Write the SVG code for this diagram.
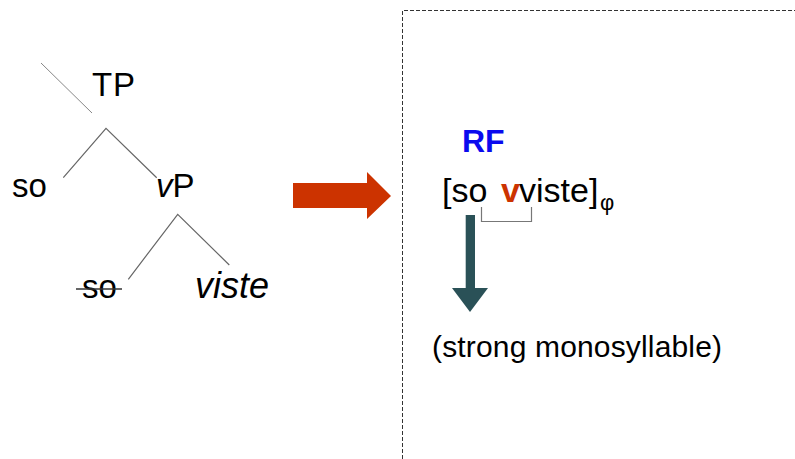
<svg xmlns="http://www.w3.org/2000/svg" width="795" height="459" viewBox="0 0 795 459">
<style>
  text { font-family: "Liberation Sans", Arial, sans-serif; fill: #000; }
  .lbl { font-size: 33px; }
  .it { font-style: italic; }
  .branch { stroke: #666; stroke-width: 1.2; fill: none; }
  .dash { stroke: #333; stroke-width: 1; stroke-dasharray: 4 2; fill: none; }
</style>
<rect width="795" height="459" fill="#fff"/>
<g id="frame">
  <path class="dash" d="M402.5 459 V10.5 H795"/>
</g>
<g id="connectors">
  <line x1="41" y1="63" x2="92" y2="113" stroke="#888" stroke-width="1"/>
  <polyline class="branch" points="63.3,177.7 106,128.3 156.7,177.7"/>
  <polyline class="branch" points="128.3,279.3 177.7,214.3 229.3,265"/>
  <polygon id="red-arrow" points="293,183 367,183 367,172 391,196 367,219 367,208 293,208" fill="#CC3300"/>
  <polygon id="teal-arrow" points="465.7,215 475,215 475,288 488,288 470,312 452,288 465.7,288" fill="#2A5157"/>
  <polyline points="481.5,207 481.5,221.5 531.5,221.5 531.5,207" stroke="#777" stroke-width="1.2" fill="none"/>
</g>
<g id="node-TP"><text class="lbl" x="92" y="96" textLength="43">TP</text></g>
<g id="node-so1"><text class="lbl" x="12" y="197">so</text></g>
<g id="node-vP"><text class="lbl" x="156" y="197"><tspan class="it">v</tspan>P</text></g>
<g id="node-so2">
  <text class="lbl" x="82" y="298">so</text>
  <line x1="76" y1="289" x2="122" y2="289" stroke="#333" stroke-width="1.5"/>
</g>
<g id="node-viste"><text class="it" x="195" y="298" font-size="36">viste</text></g>
<g id="node-RF"><text x="462" y="152" font-size="32" font-weight="bold" style="fill:#0A0AEE">RF</text></g>
<g id="node-phrase">
  <text x="442" y="202" font-size="34">[so<tspan x="501" font-weight="bold" style="fill:#CC3300">v</tspan><tspan x="519">viste]</tspan><tspan x="600" dy="8" font-size="22">φ</tspan></text>
</g>
<g id="node-strong"><text x="432" y="357" font-size="30" textLength="290">(strong monosyllable)</text></g>
</svg>
